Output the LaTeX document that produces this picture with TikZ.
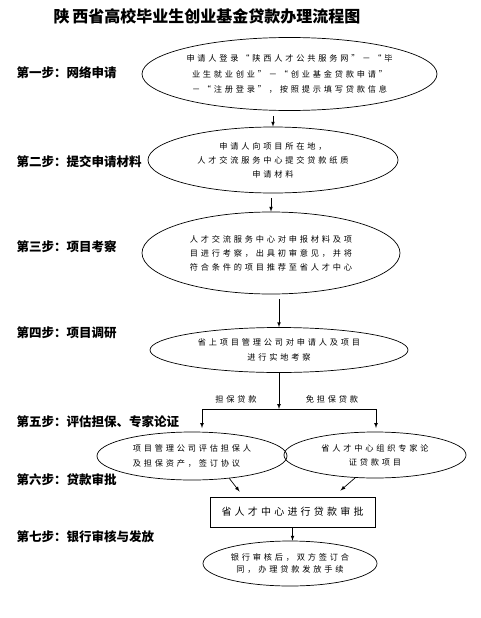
\documentclass[tikz,border=0pt]{standalone}
\usepackage{fontspec}
\setmainfont{Noto Sans CJK SC}
\newfontfamily\spacedfont[LetterSpace=34]{Noto Sans CJK SC}
\newfontfamily\boxfont[LetterSpace=32]{Noto Sans CJK SC}
\usepackage{tikz}
\usetikzlibrary{shapes.geometric,arrows,positioning,calc}

\tikzset{
  stage/.style={draw, ellipse, inner sep=0pt, align=center},
  small/.style={font=\spacedfont\fontsize{8.2}{#1}\selectfont},
  small/.default=14,
  steplabel/.style={anchor=west, font=\fontsize{12.5}{14}\selectfont\bfseries},
}

\begin{document}
\begin{tikzpicture}[x=1pt,y=-1pt,>=latex,line width=0.7pt]
\useasboundingbox (0,0) rectangle (480,618);
% title
\node[font=\fontsize{16}{18}\selectfont\bfseries] (title) at (207,16) {陕\,西省高校毕业生创业基金贷款办理流程图};
% steps on the left
\node[steplabel] (s1) at (13,73) {第一步：网络申请};
\node[steplabel] (s2) at (13,162) {第二步：提交申请材料};
\node[steplabel] (s3) at (13,247) {第三步：项目考察};
\node[steplabel] (s4) at (13,333) {第四步：项目调研};
\node[steplabel] (s5) at (13,422) {第五步：评估担保、专家论证};
\node[steplabel] (s6) at (13,480) {第六步：贷款审批};
\node[steplabel] (s7) at (13,537) {第七步：银行审核与发放};
% ellipses
\node[stage, small=15.5, minimum width=295, minimum height=73] (e1) at (289.5,74)
  {申请人登录“陕西人才公共服务网”－“毕\\业生就业创业”－“创业基金贷款申请”\\－“注册登录”，按照提示填写贷款信息};
\node[stage, small, minimum width=250, minimum height=66] (e2) at (273,160)
  {申请人向项目所在地，\\人才交流服务中心提交贷款纸质\\申请材料};
\node[stage, small, minimum width=258, minimum height=82] (e3) at (271,253)
  {人才交流服务中心对申报材料及项\\目进行考察，出具初审意见，并将\\符合条件的项目推荐至省人才中心};
\node[stage, small=15, minimum width=258, minimum height=45] (e4) at (279,350)
  {省上项目管理公司对申请人及项目\\进行实地考察};
\node[stage, small=15, align=left, minimum width=190, minimum height=48] (e5a) at (192,456)
  {项目管理公司评估担保人\\及担保资产，签订协议};
\node[stage, small=14, minimum width=182, minimum height=46] (e5b) at (375,455)
  {省人才中心组织专家论\\证贷款项目};
\node[draw, line width=0.9pt, minimum width=165, minimum height=30, font=\boxfont\fontsize{10}{12}\selectfont] (box) at (292.5,512)
  {省人才中心进行贷款审批};
\node[stage, small=12, minimum width=174, minimum height=45] (e7) at (290,563.5)
  {银行审核后，双方签订合\\同，办理贷款发放手续};
% branch labels
\node[small] (lguar) at (236,399) {担保贷款};
\node[small] (lfree) at (332,399) {免担保贷款};
% arrows
\coordinate (split) at (e4.south |- 0,409);
\coordinate (la) at (202,428);
\coordinate (lb) at (376,428);
\draw[->] ($(e1.south -| e2.north)+(0,5)$) -- (e2.north);
\draw[->] ($(e2.south -| e3.north)+(0,5)$) -- (e3.north);
\draw[->] ($(e3.south -| e4.north)+(0,5)$) -- (e4.north);
\draw[->] (e4.south) -- (split);
\draw[->] (split) -| (la);
\draw[->] (split) -| (lb);
\draw[->] (e5a.-31) -- ($(box.north west)+(30,-5)$);
\draw[->] (e5b.-131) -- ($(box.north east)+(-35,-6)$);
\draw[->] (box.south) -- (box.south |- e7.north);
\end{tikzpicture}
\end{document}
